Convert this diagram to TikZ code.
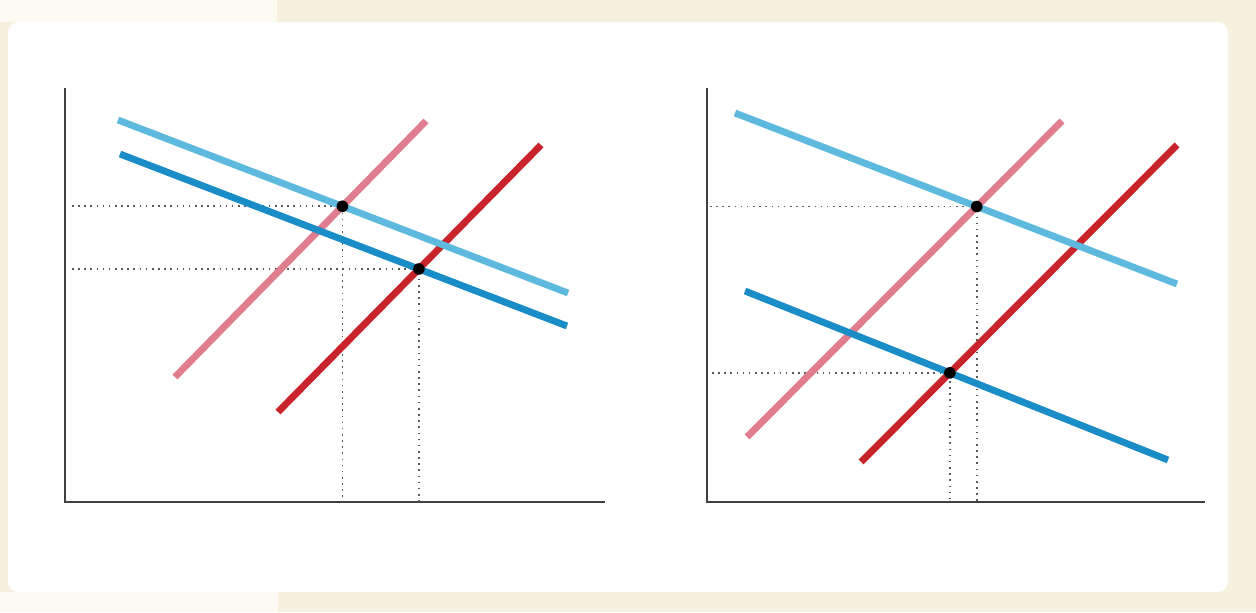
\documentclass[tikz,border=0pt]{standalone}
\usepackage{tikz}
\usetikzlibrary{intersections}
\definecolor{cream}{HTML}{F8F0DE}
\definecolor{paleframe}{HTML}{FDFAF3}
\definecolor{lightblue}{HTML}{5DB9DE}
\definecolor{darkblue}{HTML}{1B8DC6}
\definecolor{pink}{HTML}{E07D8E}
\definecolor{darkred}{HTML}{C9232C}
\tikzset{
	curve/.style={line width=3.9pt},
	guide/.style={gray!70!black, line width=0.9pt, dash pattern=on 0.9pt off 2.6pt},
	axis/.style={line width=1.2pt, black!75},
	eqpt/.style={fill=black}
}
\begin{document}
\begin{tikzpicture}[x=0.02cm, y=-0.02cm]
			\useasboundingbox (0,0) rectangle (1256,612);
			\fill[cream] (0,0) rectangle (1256,612);
			\fill[paleframe] (0,0) rectangle (277,22);
			\fill[paleframe] (0,592) rectangle (278,612);
			\fill[white, rounded corners=6pt] (8,22) rectangle (1228,592);
			% left panel
			\draw[axis] (65,88) -- (65,502) -- (605,502);
			\path[name path=lbA] (118,120) -- (568,293);
			\path[name path=dbA] (120,154) -- (567,326);
			\path[name path=pkA] (175,377) -- (426,121);
			\path[name path=rdA] (278,412) -- (541,145);
			\path[name intersections={of=lbA and pkA, by=eA}];
			\path[name intersections={of=dbA and rdA, by=fA}];
			\draw[guide] (72,0 |- eA) -- (eA) -- (eA |- 0,502);
			\draw[guide] (72,0 |- fA) -- (fA) -- (fA |- 0,502);
			\draw[curve, pink] (175,377) -- (426,121);
			\draw[curve, darkred] (278,412) -- (541,145);
			\draw[curve, lightblue] (118,120) -- (568,293);
			\draw[curve, darkblue] (120,154) -- (567,326);
			\fill[eqpt] (eA) circle (3.3pt);
			\fill[eqpt] (fA) circle (3.3pt);
			% right panel
			\draw[axis] (707,88) -- (707,502) -- (1205,502);
			\path[name path=lbB] (735,113) -- (1177,284);
			\path[name path=dbB] (745,291) -- (1168,460);
			\path[name path=pkB] (747,437) -- (1062,121);
			\path[name path=rdB] (861,462) -- (1177,145);
			\path[name intersections={of=lbB and pkB, by=eB}];
			\path[name intersections={of=dbB and rdB, by=fB}];
			\draw[guide] (710,0 |- eB) -- (eB) -- (eB |- 0,502);
			\draw[guide] (712,0 |- fB) -- (fB) -- (fB |- 0,502);
			\draw[curve, pink] (747,437) -- (1062,121);
			\draw[curve, darkred] (861,462) -- (1177,145);
			\draw[curve, lightblue] (735,113) -- (1177,284);
			\draw[curve, darkblue] (745,291) -- (1168,460);
			\fill[eqpt] (eB) circle (3.3pt);
			\fill[eqpt] (fB) circle (3.3pt);
		\end{tikzpicture}
\end{document}
